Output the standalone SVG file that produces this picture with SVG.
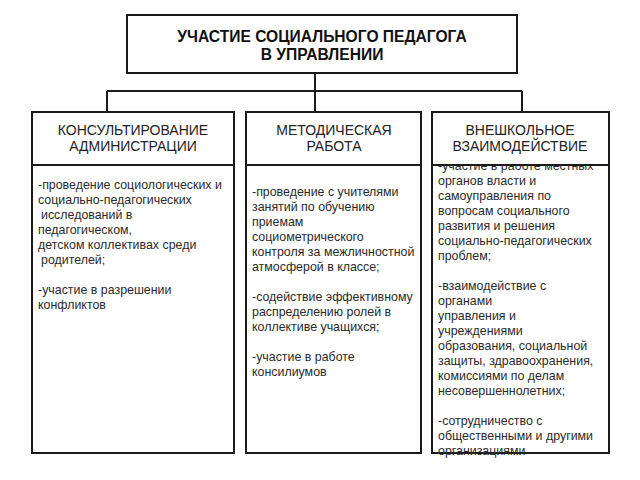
<svg xmlns="http://www.w3.org/2000/svg" width="640" height="480" viewBox="0 0 640 480">
<style>
.box{fill:#fff;stroke:#1a1a1a;stroke-width:2}
.ln{fill:none;stroke:#1a1a1a;stroke-width:2}
.title{font-family:"Liberation Sans",Arial,sans-serif;font-weight:bold;font-size:15.6px;fill:#111;text-anchor:middle}
.hd{font-family:"Liberation Sans",Arial,sans-serif;font-size:14px;fill:#222;text-anchor:middle}
.bd{font-family:"Liberation Sans",Arial,sans-serif;font-size:12.4px;fill:#2a2a2a}
</style>
<rect width="640" height="480" fill="#fff"/>
<g id="connectors">
<path class="ln" d="M315 73 V91 M107 91 H522 M107 91 V112 M315 91 V112 M522 91 V112"/>
</g>
<g id="top">
<rect class="box" x="127" y="15" width="390" height="58"/>
<text class="title" x="322" y="42">УЧАСТИЕ СОЦИАЛЬНОГО ПЕДАГОГА</text>
<text class="title" x="322" y="60">В УПРАВЛЕНИИ</text>
</g>
<g id="consult">
<rect class="box" x="32" y="112" width="202" height="53"/>
<text class="hd" x="133" y="135">КОНСУЛЬТИРОВАНИЕ</text>
<text class="hd" x="133" y="151">АДМИНИСТРАЦИИ</text>
<rect class="box" x="32" y="165" width="202" height="288"/>
<text class="bd" x="38" y="189">-проведение социологических и</text>
<text class="bd" x="38" y="204">социально-педагогических</text>
<text class="bd" x="41" y="219">исследований в</text>
<text class="bd" x="38" y="234">педагогическом,</text>
<text class="bd" x="38" y="249">детском коллективах среди</text>
<text class="bd" x="41" y="264">родителей;</text>
<text class="bd" x="38" y="294">-участие в разрешении</text>
<text class="bd" x="38" y="309">конфликтов</text>
</g>
<g id="method">
<rect class="box" x="246" y="112" width="175" height="53"/>
<text class="hd" x="334" y="135">МЕТОДИЧЕСКАЯ</text>
<text class="hd" x="334" y="151">РАБОТА</text>
<rect class="box" x="246" y="165" width="175" height="288"/>
<text class="bd" x="252" y="196">-проведение с учителями</text>
<text class="bd" x="252" y="211">занятий по обучению</text>
<text class="bd" x="252" y="226">приемам</text>
<text class="bd" x="252" y="241">социометрического</text>
<text class="bd" x="252" y="256">контроля за межличностной</text>
<text class="bd" x="252" y="271">атмосферой в классе;</text>
<text class="bd" x="252" y="301">-содействие эффективному</text>
<text class="bd" x="252" y="316">распределению ролей в</text>
<text class="bd" x="252" y="331">коллективе учащихся;</text>
<text class="bd" x="252" y="361">-участие в работе</text>
<text class="bd" x="252" y="376">консилиумов</text>
</g>
<g id="external">
<rect class="box" x="432" y="165" width="177" height="288"/>
<text class="bd" x="438" y="170">-участие в работе местных</text>
<text class="bd" x="438" y="185">органов власти и</text>
<text class="bd" x="438" y="200">самоуправления по</text>
<text class="bd" x="438" y="215">вопросам социального</text>
<text class="bd" x="438" y="230">развития и решения</text>
<text class="bd" x="438" y="245">социально-педагогических</text>
<text class="bd" x="438" y="260">проблем;</text>
<text class="bd" x="438" y="290">-взаимодействие с</text>
<text class="bd" x="438" y="305">органами</text>
<text class="bd" x="438" y="320">управления и</text>
<text class="bd" x="438" y="335">учреждениями</text>
<text class="bd" x="438" y="350">образования, социальной</text>
<text class="bd" x="438" y="365">защиты, здравоохранения,</text>
<text class="bd" x="438" y="380">комиссиями по делам</text>
<text class="bd" x="438" y="395">несовершеннолетних;</text>
<text class="bd" x="438" y="425">-сотрудничество с</text>
<text class="bd" x="438" y="440">общественными и другими</text>
<text class="bd" x="438" y="455">организациями</text>
<rect class="box" x="432" y="112" width="177" height="53"/>
<text class="hd" x="520" y="135">ВНЕШКОЛЬНОЕ</text>
<text class="hd" x="520" y="151">ВЗАИМОДЕЙСТВИЕ</text>
</g>
</svg>
